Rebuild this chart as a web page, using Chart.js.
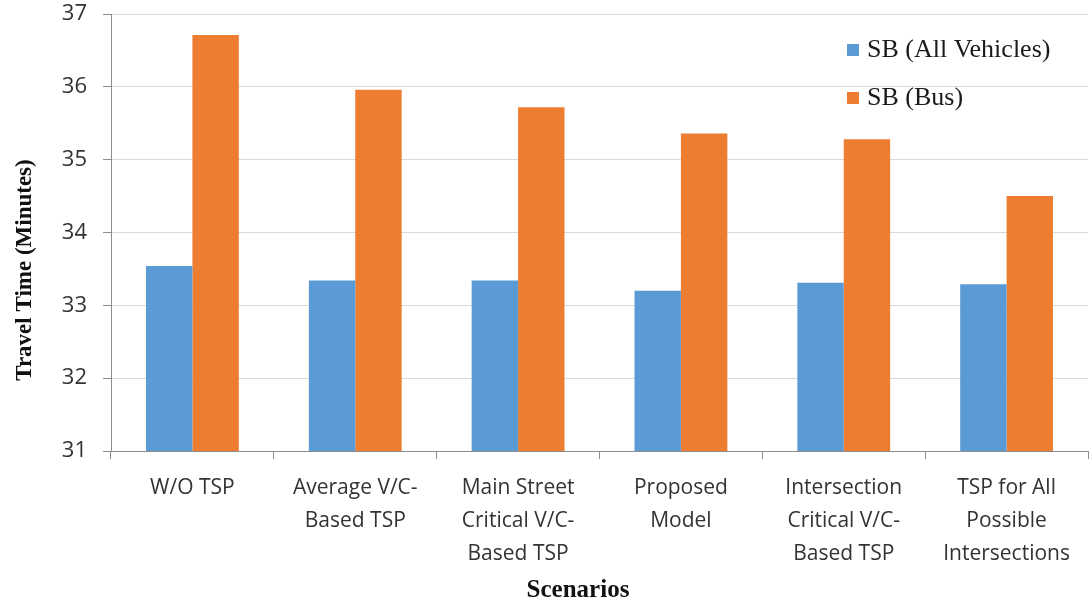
<!DOCTYPE html>
<html>
<head>
<meta charset="utf-8">
<script src="https://cdn.jsdelivr.net/npm/chart.js@4.4.1/dist/chart.umd.min.js"></script>
<style>
  html, body { margin: 0; padding: 0; background: #ffffff; }
  #wrap { width: 1089px; height: 607px; position: relative; }
</style>
</head>
<body>
<div id="wrap"><canvas id="chart" width="1089" height="607"></canvas></div>
<script>
// Scenario names (multi-line category labels)
const scenarios = [
  ["W/O TSP"],
  ["Average V/C-", "Based TSP"],
  ["Main Street", "Critical V/C-", "Based TSP"],
  ["Proposed", "Model"],
  ["Intersection", "Critical V/C-", "Based TSP"],
  ["TSP for All", "Possible", "Intersections"]
];

// Travel times in minutes
const allVehicles = [33.54, 33.34, 33.34, 33.20, 33.31, 33.29];
const bus = [36.71, 35.96, 35.72, 35.36, 35.28, 34.50];

const seriesNames = ["SB (All Vehicles)", "SB (Bus)"];
const yTicks = [31, 32, 33, 34, 35, 36, 37];

const yTitle = "Travel Time (Minutes)";
const xTitle = "Scenarios";

const BLUE = "#5b9bd5";
const ORANGE = "#ed7d31";

// Legend and axis titles drawn inside / beside the plot
const decorations = {
  id: "decorations",
  afterDraw(chart) {
    const ctx = chart.ctx;
    const area = chart.chartArea;
    ctx.save();

    // legend, top-right inside the plot
    ctx.font = "26px 'Liberation Serif'";
    ctx.textBaseline = "middle";
    ctx.textAlign = "left";
    const lx = area.right - 241;
    const rows = [area.top + 36, area.top + 84];
    chart.data.datasets.forEach((ds, i) => {
      ctx.fillStyle = ds.backgroundColor;
      ctx.fillRect(lx, rows[i] - 6, 12, 12);
      ctx.fillStyle = "#1a1a1a";
      ctx.fillText(ds.label, lx + 20, rows[i]);
    });

    // y-axis title
    ctx.fillStyle = "#111111";
    ctx.font = "bold 23px 'Liberation Serif'";
    ctx.textAlign = "center";
    ctx.translate(25, 270);
    ctx.rotate(-Math.PI / 2);
    ctx.fillText(yTitle, 0, 0);
    ctx.restore();

    // x-axis title
    ctx.save();
    ctx.fillStyle = "#111111";
    ctx.font = "bold 25px 'Liberation Serif'";
    ctx.textAlign = "center";
    ctx.textBaseline = "middle";
    ctx.fillText(xTitle, 578, 591);
    ctx.restore();
  }
};

new Chart(document.getElementById("chart"), {
  type: "bar",
  data: {
    labels: scenarios,
    datasets: [
      { label: seriesNames[0], data: allVehicles, backgroundColor: BLUE },
      { label: seriesNames[1], data: bus, backgroundColor: ORANGE }
    ]
  },
  options: {
    responsive: false,
    animation: false,
    devicePixelRatio: 1,
    layout: { padding: { top: 14, right: 1, left: 0, bottom: 0 } },
    datasets: { bar: { barPercentage: 1.0, categoryPercentage: 0.57 } },
    plugins: {
      legend: { display: false },
      tooltip: { enabled: false }
    },
    scales: {
      x: {
        afterFit(scale) { scale.height = 156; },
        grid: {
          offset: true,
          drawOnChartArea: false,
          drawTicks: true,
          tickLength: 8,
          color: "#8c8c8c"
        },
        border: { color: "#8c8c8c", width: 1 },
        ticks: {
          color: "#333333",
          padding: 13,
          maxRotation: 0,
          autoSkip: false,
          font: { family: "'Open Sans'", size: 21, lineHeight: 1.56 }
        }
      },
      y: {
        min: 31,
        max: 37,
        afterFit(scale) {
          scale.width = 111;
          scale.paddingTop = 0;
          scale.paddingBottom = 0;
        },
        afterBuildTicks(scale) { scale.ticks = yTicks.map(v => ({ value: v })); },
        grid: {
          color: "#d9d9d9",
          tickColor: "#8c8c8c",
          tickLength: 8,
          lineWidth: 1
        },
        border: { color: "#8c8c8c", width: 1 },
        ticks: {
          color: "#333333",
          padding: 16,
          font: { family: "'Open Sans'", size: 22, lineHeight: 1.0 }
        }
      }
    }
  },
  plugins: [decorations]
});
</script>
</body>
</html>
